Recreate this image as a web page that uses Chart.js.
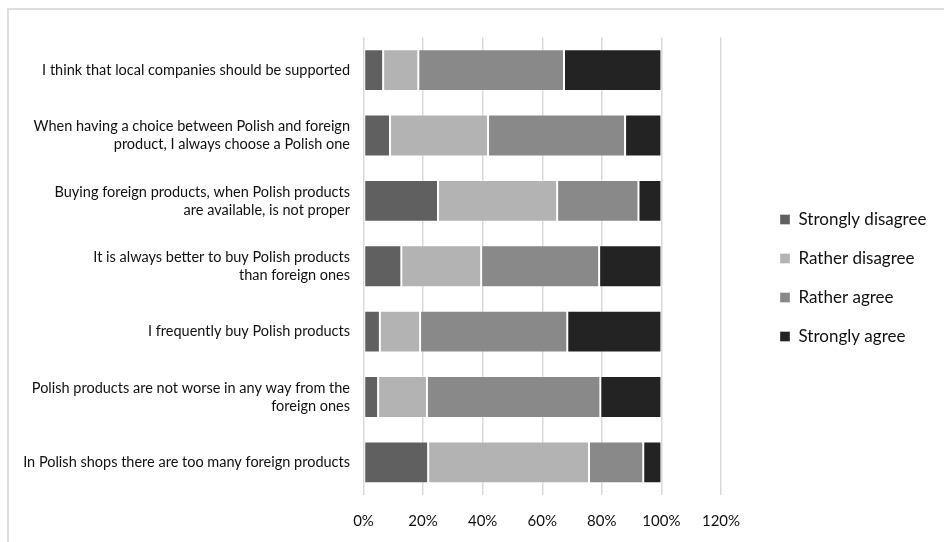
<!DOCTYPE html>
<html>
<head>
<meta charset="utf-8">
<script src="https://cdn.jsdelivr.net/npm/chart.js@4.4.1/dist/chart.umd.min.js"></script>
<style>
  html, body { margin: 0; padding: 0; background: #fff; overflow: hidden; }
  #wrap { position: relative; width: 944px; height: 542px; }
  #frame { position: absolute; left: 7px; top: 8px; width: 1000px; height: 600px; border: 2px solid #dedede; }
  #salesChart { position: absolute; left: 0; top: 0; }
</style>
</head>
<body>
<div id="wrap">
  <div id="frame"></div>
  <canvas id="salesChart" width="944" height="542"></canvas>
</div>
<script>
// statements (top to bottom)
const categories = [
    'I think that local companies should be supported',
    ['When having a choice between Polish and foreign', 'product, I always choose a Polish one'],
    ['Buying foreign products, when Polish products', 'are available, is not proper'],
    ['It is always better to buy Polish products', 'than foreign ones'],
    'I frequently buy Polish products',
    ['Polish products are not worse in any way from the', 'foreign ones'],
    'In Polish shops there are too many foreign products'
];

// shares of answers, %
const stronglyDisagree = [6.6, 8.9, 25.0, 12.7, 5.5, 4.9, 21.7];
const ratherDisagree   = [11.8, 32.9, 40.0, 26.8, 13.5, 16.4, 54.0];
const ratherAgree      = [48.9, 46.0, 27.3, 39.6, 49.4, 58.2, 18.2];
const stronglyAgree    = [32.7, 12.2, 7.7, 20.9, 31.6, 20.5, 6.1];

const seriesNames = ['Strongly disagree', 'Rather disagree', 'Rather agree', 'Strongly agree'];
const seriesColors = ['#606060', '#b3b3b3', '#898989', '#232323'];

const xTicks = [0, 20, 40, 60, 80, 100, 120];

// push the legend further right, leaving a gap after the plot
const legendPlace = {
    id: 'legendPlace',
    afterInit(chart) {
        const fit = chart.legend.fit;
        chart.legend.fit = function() {
            fit.call(this);
            this.width = 944 - 721;
        };
    },
    afterLayout(chart) {
        const lg = chart.legend;
        const pad = lg.options.labels.padding;
        lg.left = 780 - pad;
        lg.top = 211 - pad;
    }
};

document.addEventListener("DOMContentLoaded", function() {
    const ctx = document.getElementById('salesChart').getContext('2d');
    const values = [stronglyDisagree, ratherDisagree, ratherAgree, stronglyAgree];

    new Chart(ctx, {
        type: 'bar',
        data: {
            labels: categories,
            datasets: seriesNames.map((name, i) => ({
                label: name,
                data: values[i],
                backgroundColor: seriesColors[i],
                borderColor: 'rgba(255,255,255,0.35)',
                borderWidth: 1,
                borderSkipped: false,
                barPercentage: 0.64,
                categoryPercentage: 1
            }))
        },
        options: {
            indexAxis: 'y',
            responsive: false,
            animation: false,
            layout: { padding: { top: 37.5, left: 0, right: 0, bottom: 0 } },
            plugins: {
                tooltip: { enabled: false },
                legend: {
                    position: 'right',
                    align: 'start',
                    fullSize: false,
                    labels: {
                        boxWidth: 10,
                        boxHeight: 10,
                        padding: 22,
                        color: '#111',
                        font: { family: 'Lato', size: 17 }
                    }
                }
            },
            scales: {
                x: {
                    stacked: true,
                    min: 0,
                    max: 120,
                    afterBuildTicks: (scale) => { scale.ticks = xTicks.map(v => ({ value: v })); },
                    afterFit: (scale) => { scale.height = 47; },
                    grid: { color: '#d9d9d9', lineWidth: 1.5, drawTicks: false },
                    border: { display: false },
                    ticks: {
                        padding: 17,
                        color: '#111',
                        font: { family: 'Lato', size: 15 },
                        callback: (v) => v + '%'
                    }
                },
                y: {
                    stacked: true,
                    afterFit: (scale) => { scale.width = 363.5; },
                    grid: { display: false },
                    border: { display: false },
                    ticks: {
                        padding: 5.5,
                        color: '#111',
                        font: { family: 'Lato', size: 14.5, lineHeight: 1.25 }
                    }
                }
            }
        },
        plugins: [legendPlace]
    });
});
</script>
</body>
</html>
